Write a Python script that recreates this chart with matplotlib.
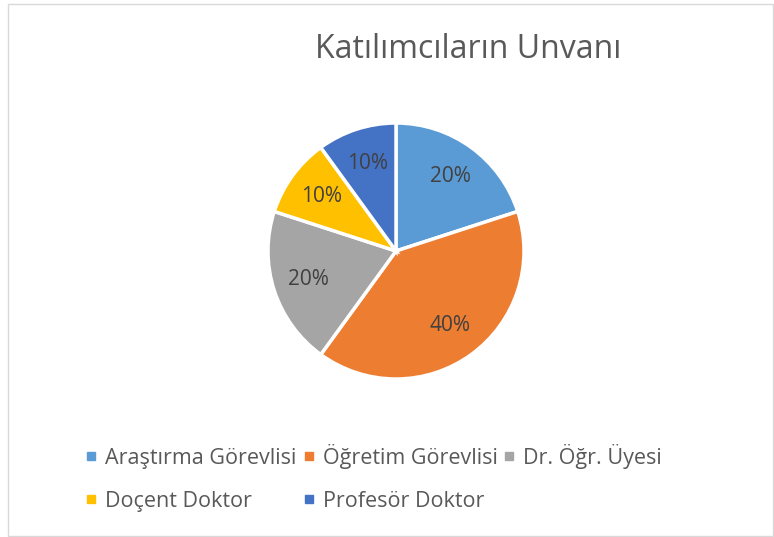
import matplotlib.pyplot as plt
from matplotlib.lines import Line2D
from matplotlib.patches import Rectangle

labels = ["Araştırma Görevlisi", "Öğretim Görevlisi", "Dr. Öğr. Üyesi",
          "Doçent Doktor", "Profesör Doktor"]
shares = [20, 40, 20, 10, 10]
colors = ["#5B9BD5", "#ED7D31", "#A5A5A5", "#FFC000", "#4472C4"]

plt.rcParams["font.family"] = ["Open Sans", "DejaVu Sans"]

W, H = 774, 537
fig = plt.figure(figsize=(W / 100, H / 100), dpi=100)

# pie centre and radius in pixels
cx, cy, r = 396, 251, 128
ax = fig.add_axes([(cx - r) / W, 1 - (cy + r) / H, 2 * r / W, 2 * r / H])
ax.pie(shares, colors=colors, startangle=90, counterclock=False,
       autopct="%d%%", pctdistance=0.72, radius=1,
       wedgeprops=dict(edgecolor="white", linewidth=2.5),
       textprops=dict(color="#404040", fontsize=15))
ax.set_xlim(-1, 1)
ax.set_ylim(-1, 1)
ax.axis("off")

fig.text(468 / W, 1 - 49 / H, "Katılımcıların Unvanı", ha="center", va="center",
         fontsize=23, color="#595959")

# legend, row-major order like Excel
handles = [Line2D([], [], marker="s", linestyle="none", markersize=5.5,
                  markerfacecolor=c, markeredgecolor=c) for c in colors]
order = [0, 3, 1, 4, 2]
fig.legend([handles[i] for i in order], [labels[i] for i in order],
           ncol=3, loc="upper left", bbox_to_anchor=(87 / W, 1 - 444 / H),
           frameon=False, fontsize=15.5, labelcolor="#595959",
           borderpad=0, borderaxespad=0,
           handlelength=0.4, handletextpad=0.45, columnspacing=0.35,
           labelspacing=1.0)

fig.patches.append(Rectangle((8 / W, 1 / H), 765 / W, 532 / H,
                             transform=fig.transFigure, fill=False,
                             edgecolor="#D9D9D9", linewidth=1))

fig.savefig("out.png", dpi=100)
